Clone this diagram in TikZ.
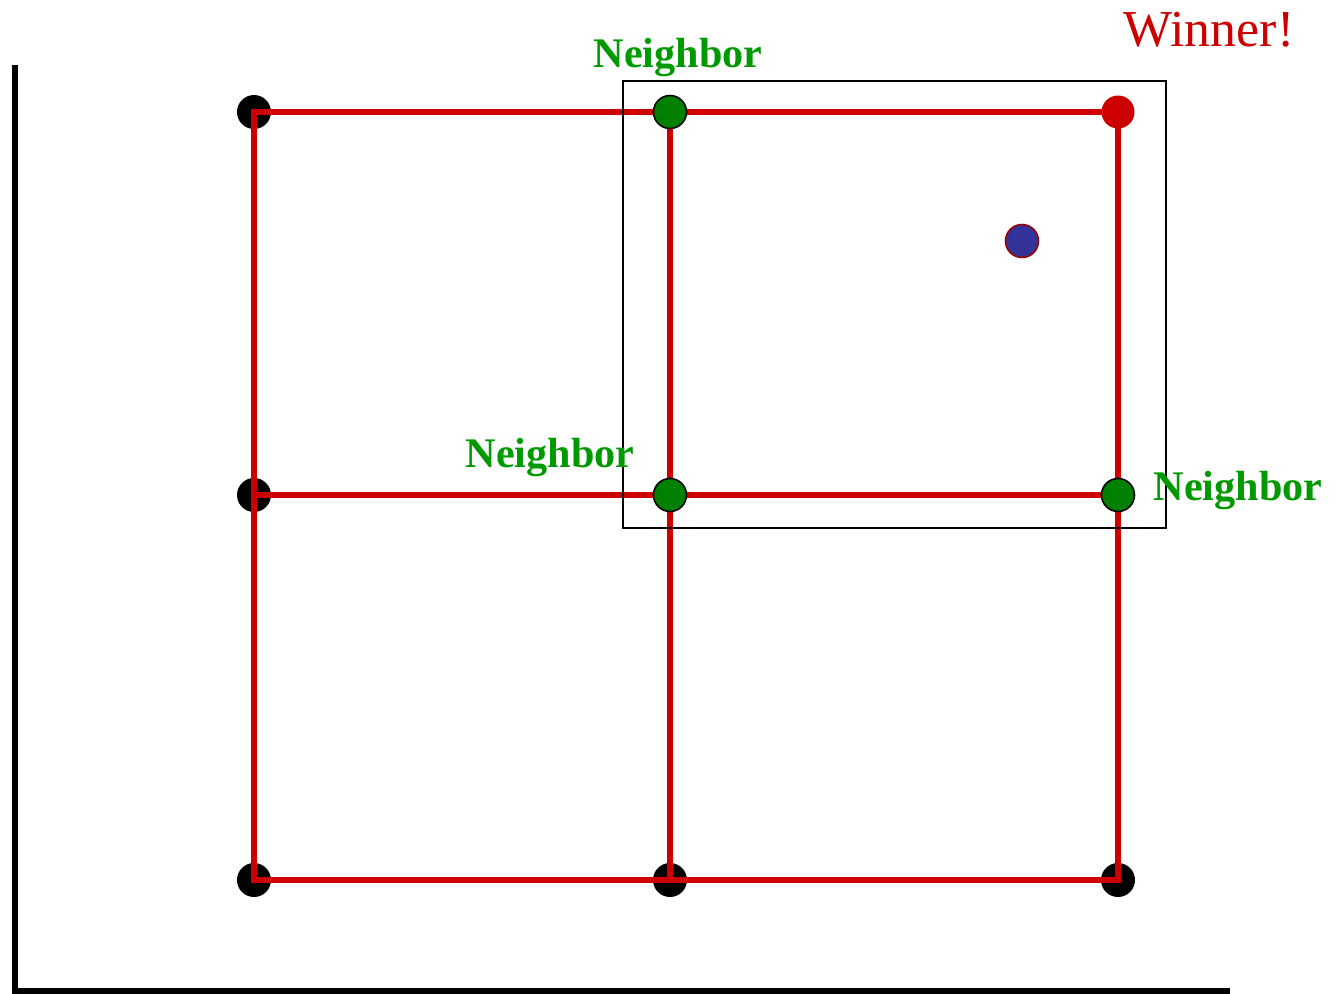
\documentclass[tikz,border=0pt]{standalone}
\usepackage{fontspec}
\setmainfont{Liberation Serif}
\usetikzlibrary{backgrounds}
\definecolor{linkred}{HTML}{CC0000}
\definecolor{nbgreen}{HTML}{008000}
\definecolor{nbtext}{HTML}{009900}
\definecolor{inblue}{HTML}{333399}
\definecolor{inrim}{HTML}{990000}

\begin{document}
\begin{tikzpicture}[
  x=0.02cm, y=-0.02cm,
  every node/.style={align=center},
  unit/.style={circle, inner sep=0pt, minimum size=0.68cm, fill=black},
  near/.style={circle, inner sep=0pt, minimum size=0.66cm, draw=black,
               line width=0.9pt, fill=nbgreen},
  best/.style={circle, inner sep=0pt, minimum size=0.66cm, fill=linkred},
  input/.style={circle, inner sep=0pt, minimum size=0.66cm, draw=inrim,
                line width=0.9pt, fill=inblue},
  tag/.style={anchor=base, text=nbtext, font=\fontsize{24}{28}\selectfont\bfseries},
  link/.style={draw=linkred, line width=3.3pt, line cap=rect},
  axis/.style={draw=black, line width=3.4pt}
]
\useasboundingbox (0,0) rectangle (1336,994);

% axes
\coordinate (ytop) at (15,65);
\coordinate (orig) at (15,991);
\coordinate (xend) at (1230,991);
\draw[axis] (ytop) -- (orig) -- (xend);

% neighbourhood box
\draw[line width=1.1pt] (623,81) rectangle (1166,528);

% winner and its neighbours
\node[near] (n12) at (670,112) {};
\node[near] (n22) at (670,495) {};
\node[near] (n23) at (1118,495) {};
\node[best] (n13) at (1118,112) {};
\node[input] (x) at (1022,241) {};

\node[tag] (lab1) at (678,67) {Neighbor};
\node[tag] (lab2) at (550,467) {Neighbor};
\node[tag] (lab3) at (1238,500) {Neighbor};
\node[anchor=base, text=linkred, font=\fontsize{29.5}{34}\selectfont] (win) at (1209,46) {Winner!};

\begin{scope}[on background layer]
\node[unit] (n11) at (254,112) {};
\node[unit] (n21) at (254,495) {};
\node[unit] (n31) at (254,880) {};
\node[unit] (n32) at (670,880) {};
\node[unit] (n33) at (1118,880) {};

\draw[link] (n11.center) -- (n12.center) -- (n13.center);
\draw[link] (n21.center) -- (n22.center) -- (n23.center);
\draw[link] (n31.center) -- (n32.center) -- (n33.center);
\draw[link] (n11.center) -- (n21.center) -- (n31.center);
\draw[link] (n12.center) -- (n22.center) -- (n32.center);
\draw[link] (n13.center) -- (n23.center) -- (n33.center);
\end{scope}
\end{tikzpicture}
\end{document}
